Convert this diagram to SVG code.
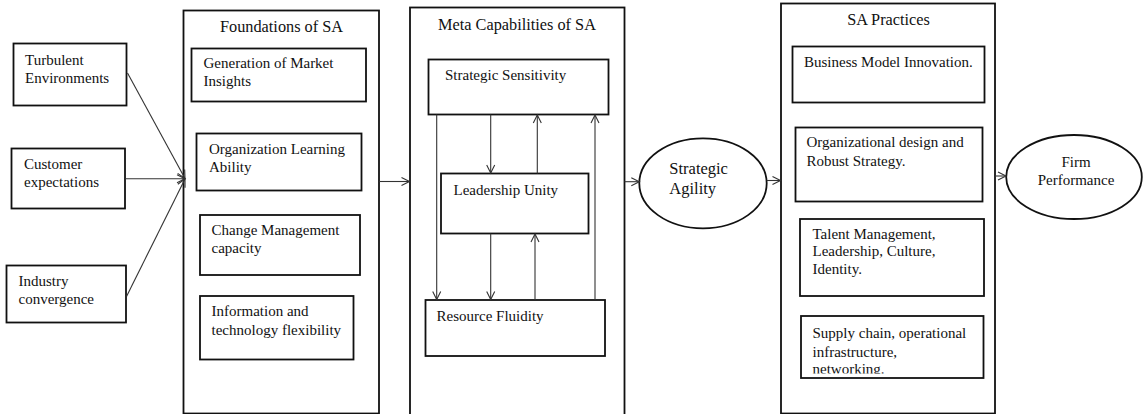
<svg xmlns="http://www.w3.org/2000/svg" width="1143" height="414" viewBox="0 0 1143 414">
  <style>
    .box { fill: #fff; stroke: #111; stroke-width: 1.8; }
    .frame { fill: #fff; stroke: #111; stroke-width: 1.8; }
    .oval { fill: #fff; stroke: #111; stroke-width: 1.8; }
    text { font-family: 'Liberation Serif', Tinos, 'Times New Roman', 'DejaVu Serif', serif; fill: #111; }
    .t { font-size: 15px; }
    .title { font-size: 16.3px; }
    .big { font-size: 16.5px; }
    .link { fill: none; stroke: #333; stroke-width: 1.1; marker-end: url(#arrow); }
  </style>
  <defs>
    <marker id="arrow" markerUnits="userSpaceOnUse" markerWidth="12" markerHeight="12" refX="9" refY="5" orient="auto">
      <path d="M1,1 L9,5 L1,9" fill="none" stroke="#333" stroke-width="1.1"/>
    </marker>
    <clipPath id="supplyClip">
      <rect x="801" y="316" width="183" height="57.5"/>
    </clipPath>
  </defs>
  <rect width="1143" height="414" fill="#fff"/>

  <!-- Drivers -->
  <g id="turbulent">
    <rect class="box" x="13.5" y="43.5" width="113" height="62"/>
    <text class="t" x="25" y="64.5">Turbulent</text>
    <text class="t" x="25" y="83">Environments</text>
  </g>
  <g id="customer">
    <rect class="box" x="11.5" y="148.5" width="113.5" height="60"/>
    <text class="t" x="24" y="168.5">Customer</text>
    <text class="t" x="24" y="187">expectations</text>
  </g>
  <g id="industry">
    <rect class="box" x="6.5" y="265.5" width="119.5" height="57"/>
    <text class="t" x="18.5" y="286">Industry</text>
    <text class="t" x="18.5" y="304">convergence</text>
  </g>

  <!-- Foundations of SA -->
  <g id="foundations">
    <rect class="frame" x="183.5" y="10.5" width="195.5" height="403"/>
    <text class="title" x="281.5" y="32" text-anchor="middle">Foundations of SA</text>
  </g>
  <g id="market-insights">
    <rect class="box" x="191.5" y="48.5" width="174.5" height="53"/>
    <text class="t" x="203.5" y="67.5">Generation of Market</text>
    <text class="t" x="203.5" y="86">Insights</text>
  </g>
  <g id="learning-ability">
    <rect class="box" x="196.5" y="133.5" width="165" height="57"/>
    <text class="t" x="209" y="154">Organization Learning</text>
    <text class="t" x="209" y="172">Ability</text>
  </g>
  <g id="change-management">
    <rect class="box" x="200" y="215" width="160" height="60"/>
    <text class="t" x="211.5" y="235">Change Management</text>
    <text class="t" x="211.5" y="253">capacity</text>
  </g>
  <g id="it-flexibility">
    <rect class="box" x="200" y="296" width="153.5" height="63.5"/>
    <text class="t" x="211.5" y="315.5">Information and</text>
    <text class="t" x="211.5" y="334.5">technology flexibility</text>
  </g>

  <!-- Meta Capabilities of SA -->
  <g id="meta-capabilities">
    <rect class="frame" x="410" y="7.5" width="214.5" height="410"/>
    <text class="title" x="517" y="30" text-anchor="middle">Meta Capabilities of SA</text>
  </g>
  <g id="strategic-sensitivity">
    <rect class="box" x="428.5" y="59.5" width="180" height="55"/>
    <text class="t" x="445" y="80">Strategic Sensitivity</text>
  </g>
  <g id="leadership-unity">
    <rect class="box" x="441" y="173.5" width="147.5" height="60"/>
    <text class="t" x="453.5" y="194.5">Leadership Unity</text>
  </g>
  <g id="resource-fluidity">
    <rect class="box" x="425.5" y="300" width="179.5" height="56"/>
    <text class="t" x="436.5" y="321">Resource Fluidity</text>
  </g>

  <!-- Strategic Agility -->
  <g id="strategic-agility">
    <ellipse class="oval" cx="703" cy="183.3" rx="63.7" ry="45"/>
    <text class="big" x="669.3" y="174">Strategic</text>
    <text class="big" x="669.3" y="193.5">Agility</text>
  </g>

  <!-- SA Practices -->
  <g id="sa-practices">
    <rect class="frame" x="781" y="3.5" width="214" height="410"/>
    <text class="title" x="888.5" y="25" text-anchor="middle">SA Practices</text>
  </g>
  <g id="business-model">
    <rect class="box" x="792.5" y="46.5" width="192" height="56"/>
    <text class="t" x="804" y="66.5">Business Model Innovation.</text>
  </g>
  <g id="org-design">
    <rect class="box" x="795.5" y="127.5" width="187" height="74"/>
    <text class="t" x="806.5" y="146.5">Organizational design and</text>
    <text class="t" x="806.5" y="165.5">Robust Strategy.</text>
  </g>
  <g id="talent-management">
    <rect class="box" x="800" y="219" width="184" height="77"/>
    <text class="t" x="812.5" y="238.5">Talent Management,</text>
    <text class="t" x="812.5" y="256">Leadership, Culture,</text>
    <text class="t" x="812.5" y="273.5">Identity.</text>
  </g>
  <g id="supply-chain">
    <rect class="box" x="801" y="316" width="182.5" height="62"/>
    <!-- last line overflows the box and is cut at its lower edge -->
    <g clip-path="url(#supplyClip)">
      <text class="t" x="812.5" y="338">Supply chain, operational</text>
      <text class="t" x="812.5" y="356.5">infrastructure,</text>
      <text class="t" x="812.5" y="374">networking.</text>
    </g>
  </g>

  <!-- Firm Performance -->
  <g id="firm-performance">
    <ellipse class="oval" cx="1074" cy="177" rx="67.8" ry="42"/>
    <text class="t" x="1076" y="166.5" text-anchor="middle">Firm</text>
    <text class="t" x="1076" y="185" text-anchor="middle">Performance</text>
  </g>

  <!-- Connectors -->
  <g id="connectors">
    <line class="link" x1="127.5" y1="73" x2="185" y2="178.5"/>
    <line class="link" x1="125.5" y1="178.7" x2="185" y2="178.7"/>
    <line class="link" x1="126.5" y1="296.5" x2="185" y2="178.9"/>
    <line class="link" x1="379" y1="181.5" x2="409.5" y2="181.5"/>

    <line class="link" x1="436.7" y1="114.5" x2="436.7" y2="299.5"/>
    <line class="link" x1="490.7" y1="114.5" x2="490.7" y2="173"/>
    <line class="link" x1="537.3" y1="173.5" x2="537.3" y2="115"/>
    <line class="link" x1="595" y1="300" x2="595" y2="115"/>
    <line class="link" x1="490.7" y1="233.5" x2="490.7" y2="299.5"/>
    <line class="link" x1="535" y1="300" x2="535" y2="234"/>

    <line class="link" x1="624.5" y1="181.7" x2="639.3" y2="181.7"/>
    <line class="link" x1="766.7" y1="180.5" x2="780.5" y2="180.5"/>
    <line class="link" x1="995" y1="176" x2="1006" y2="176"/>
  </g>
</svg>
